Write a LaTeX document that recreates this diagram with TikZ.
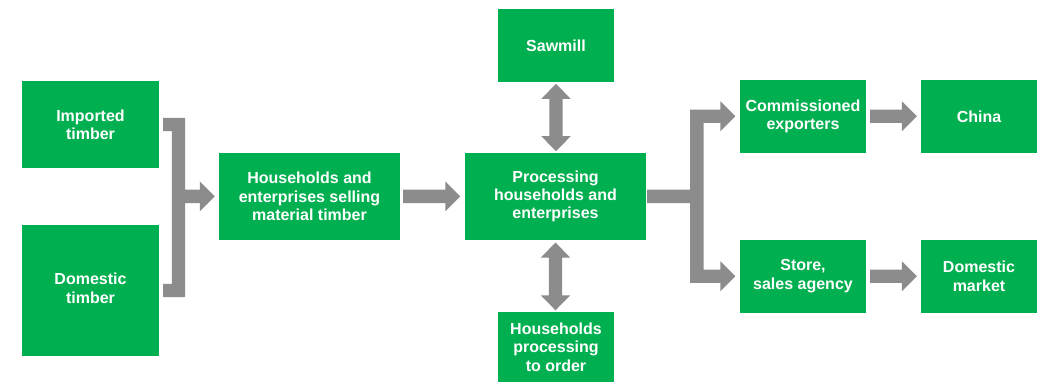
\documentclass[tikz,border=0pt]{standalone}
\usepackage{fontspec}
\setmainfont{Liberation Sans}
\usetikzlibrary{calc}
\definecolor{boxgreen}{HTML}{00B050}
\definecolor{arrowgray}{HTML}{8C8C8C}

% horizontal block arrow between two points at the height of the first
\newcommand\harrow[2]{%
  \fill[arrowgray] let \p1=(#1), \p2=(#2) in
    (\x1,\y1+6.7pt) -- (\x2-15pt,\y1+6.7pt) -- (\x2-15pt,\y1+15pt) -- (\x2,\y1)
    -- (\x2-15pt,\y1-15pt) -- (\x2-15pt,\y1-6.7pt) -- (\x1,\y1-6.7pt) -- cycle;}
% vertical double-headed block arrow, #1 above #2
\newcommand\vdarrow[2]{%
  \fill[arrowgray] let \p1=(#1), \p2=(#2) in
    (\x1,\y1) -- (\x1+14.7pt,\y1-15pt) -- (\x1+6.7pt,\y1-15pt) -- (\x1+6.7pt,\y2+15pt)
    -- (\x1+14.7pt,\y2+15pt) -- (\x1,\y2) -- (\x1-14.7pt,\y2+15pt) -- (\x1-6.7pt,\y2+15pt)
    -- (\x1-6.7pt,\y1-15pt) -- (\x1-14.7pt,\y1-15pt) -- cycle;}

\begin{document}
\begin{tikzpicture}[x=1pt,y=-1pt,
  box/.style={fill=boxgreen, draw=none, text=white, align=center, inner sep=0pt,
    font=\bfseries\fontsize{16}{18.4}\selectfont}]
\useasboundingbox[fill=white] (0,0) rectangle (1042,382);

\node[box, minimum width=137pt, minimum height=87pt]  (imp) at (90.5,124.5) {Imported\\timber};
\node[box, minimum width=137pt, minimum height=131pt] (dom) at (90.5,290.5) {\raisebox{4pt}{\begin{tabular}{@{}c@{}}Domestic\\timber\end{tabular}}};
\node[box, minimum width=181pt, minimum height=87pt]  (sel) at (309.5,196.4) {Households and\\enterprises selling\\material timber};
\node[box, minimum width=181pt, minimum height=87pt]  (proc) at (555.5,196.4) {Processing\\households and\\enterprises};
\node[box, minimum width=116pt, minimum height=72.7pt] (saw) at (556,45.3) {Sawmill};
\node[box, minimum width=116pt, minimum height=70pt]  (hpo) at (556,347.2) {Households\\processing\\to order};
\node[box, minimum width=126pt, minimum height=72.7pt] (comm) at (803,116.3) {Commissioned\\exporters};
\node[box, minimum width=116pt, minimum height=72.7pt] (china) at (979,116.3) {China};
\node[box, minimum width=126pt, minimum height=72.7pt] (store) at (803,276.3) {Store,\\sales agency};
\node[box, minimum width=116pt, minimum height=72.7pt] (mkt) at (979,276.3) {Domestic\\market};

% timber sources merging into the sellers
\fill[arrowgray] let \p1=(imp.east), \p2=(dom.east), \p3=(sel.west) in
  (\x1+4pt,\y1+6.7pt) -- (\x1+26pt,\y1+6.7pt) -- (\x1+26pt,\y3+6.7pt)
  -- (\x3-19pt,\y3+6.7pt) -- (\x3-19pt,\y3+15pt) -- (\x3-4pt,\y3)
  -- (\x3-19pt,\y3-15pt) -- (\x3-19pt,\y3-6.7pt) -- (\x1+26pt,\y3-6.7pt)
  -- (\x1+26pt,\y2-6.7pt) -- (\x1+4pt,\y2-6.7pt) -- (\x1+4pt,\y2+6.7pt)
  -- (\x1+12.7pt,\y2+6.7pt) -- (\x1+12.7pt,\y1-6.7pt) -- (\x1+4pt,\y1-6.7pt) -- cycle;

% sellers to processors
\harrow{$(sel.east)+(3,0)$}{$(proc.west)+(-4.5,0)$}

% processors exchanging with sawmill and order processors
\vdarrow{$(saw.south)+(0,2)$}{$(proc.north)+(0,-1.5)$}
\vdarrow{$(proc.south)+(0,2.5)$}{$(hpo.north)+(0,-1.7)$}

% processors splitting to exporters and stores
\fill[arrowgray] let \p1=(proc.east), \p2=(comm.west), \p3=(store.west) in
  (\x1+1pt,\y1+6.7pt) -- (\x1+44pt,\y1+6.7pt) -- (\x1+44pt,\y2+6.7pt)
  -- (\x2-19.5pt,\y2+6.7pt) -- (\x2-19.5pt,\y2+15pt) -- (\x2-4.5pt,\y2)
  -- (\x2-19.5pt,\y2-15pt) -- (\x2-19.5pt,\y2-6.7pt) -- (\x1+57.3pt,\y2-6.7pt)
  -- (\x1+57.3pt,\y3+6.7pt) -- (\x3-19.5pt,\y3+6.7pt) -- (\x3-19.5pt,\y3+15pt)
  -- (\x3-4.5pt,\y3) -- (\x3-19.5pt,\y3-15pt) -- (\x3-19.5pt,\y3-6.7pt)
  -- (\x1+44pt,\y3-6.7pt) -- (\x1+44pt,\y1-6.7pt) -- (\x1+1pt,\y1-6.7pt) -- cycle;

% onward to markets
\harrow{$(comm.east)+(4,0)$}{$(china.west)+(-4,0)$}
\harrow{$(store.east)+(4,0)$}{$(mkt.west)+(-4,0)$}
\end{tikzpicture}
\end{document}
